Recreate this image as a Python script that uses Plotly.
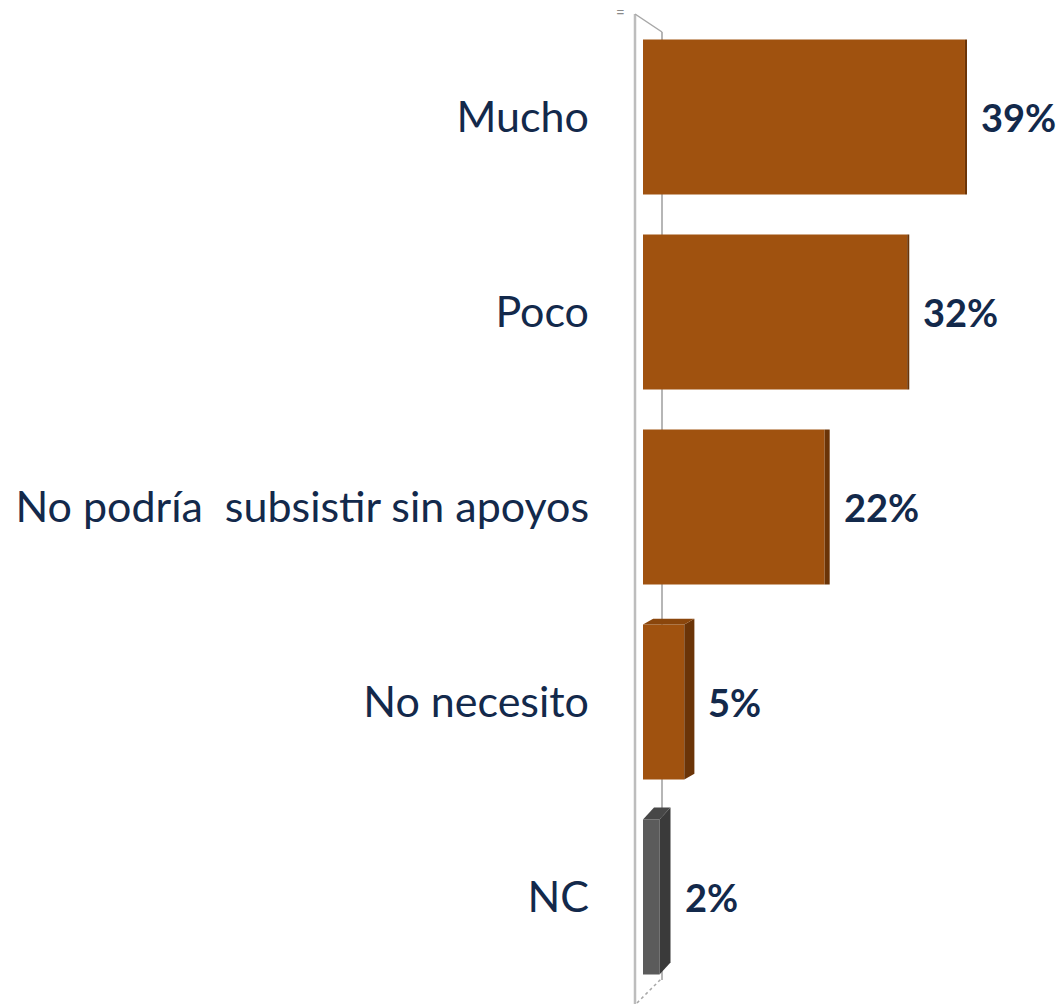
import plotly.graph_objects as go

# Survey answers and their shares (%)
categories = ["Mucho", "Poco", "No podría\u00a0 subsistir sin apoyos", "No necesito", "NC"]
values = [39, 32, 22, 5, 2]

# Styling
FRONT = ["#A0520F", "#A0520F", "#A0520F", "#A0520F", "#5B5B5B"]
SIDE = ["#6B3407", "#6B3407", "#6B3407", "#6B3407", "#3A3A3A"]
TOP = ["#8A460C", "#8A460C", "#8A460C", "#8A460C", "#474747"]
TEXT = "#13294B"
FONT = "Lato, 'Open Sans', sans-serif"

W, H = 1061, 1007
PLOT_L = 635          # left edge of the plotting area (px)
ZERO_PX = 643         # pixel position of x = 0
PX_PER_UNIT = 8.256   # px per percentage point
ROW0_PX = 117         # centre of the first row (px)
ROW_PX = 195.0        # row pitch (px)
BAR_W = 0.795

x_range = [(PLOT_L - ZERO_PX) / PX_PER_UNIT, (W - ZERO_PX) / PX_PER_UNIT]
y_range = [(H - ROW0_PX) / ROW_PX, -ROW0_PX / ROW_PX]   # reversed: first row on top

ypos = list(range(len(categories)))

fig = go.Figure()
fig.add_trace(go.Bar(
    x=values, y=ypos, orientation="h", width=BAR_W,
    marker=dict(color=FRONT, line=dict(width=0)),
    hoverinfo="skip", showlegend=False,
))


def px_to_paper(px, py):
    return (px - PLOT_L) / (W - PLOT_L), 1 - py / H


shapes = []

# Perspective "wall" behind the bars
def wall_line(p0, p1, color, width, dash="solid"):
    x0, y0 = px_to_paper(*p0)
    x1, y1 = px_to_paper(*p1)
    shapes.append(dict(type="line", xref="paper", yref="paper", x0=x0, y0=y0, x1=x1, y1=y1,
                       line=dict(color=color, width=width, dash=dash), layer="below"))

wall_line((635, 14), (635, 1004), "#BDBDBD", 2.5)
wall_line((635, 14), (662, 32), "#A8A8A8", 1.5)
wall_line((662, 32), (662, 980), "#9E9E9E", 1.5)
wall_line((637, 1003), (662, 978), "#A8A8A8", 1.5, "dot")

# 3D faces for each bar (side and top), derived from the bar values
label_shift = []
for i, v in enumerate(values):
    xr_px = ZERO_PX + v * PX_PER_UNIT
    yc_px = ROW0_PX + i * ROW_PX
    dx_px = max(2.0, 0.036 * (965 - xr_px))
    dy_px = max(0.0, 0.032 * (yc_px - 520))
    dx = dx_px / PX_PER_UNIT
    dy = dy_px / ROW_PX
    top = i - BAR_W / 2
    bot = i + BAR_W / 2
    side = f"M {v} {top} L {v + dx} {top - dy} L {v + dx} {bot - dy} L {v} {bot} Z"
    shapes.append(dict(type="path", xref="x", yref="y", path=side,
                       fillcolor=SIDE[i], line=dict(width=0), layer="above"))
    if dy_px > 0.5:
        topface = f"M 0 {top} L {v} {top} L {v + dx} {top - dy} L {dx} {top - dy} Z"
        shapes.append(dict(type="path", xref="x", yref="y", path=topface,
                           fillcolor=TOP[i], line=dict(width=0), layer="above"))
    label_shift.append(dx_px + 12)

annotations = []
for i, v in enumerate(values):
    annotations.append(dict(
        x=v, y=i, xref="x", yref="y", text=f"<b>{v}%</b>", showarrow=False,
        xanchor="left", yanchor="middle", xshift=label_shift[i],
        font=dict(family=FONT, size=38, color=TEXT),
    ))

# small grip mark at the top of the wall
gx, gy = px_to_paper(620, 12)
annotations.append(dict(x=gx, y=gy, xref="paper", yref="paper", text="=", showarrow=False,
                        xanchor="center", yanchor="middle",
                        font=dict(family=FONT, size=15, color="#8A8A8A")))

fig.update_layout(
    width=W, height=H,
    margin=dict(l=PLOT_L, r=0, t=0, b=0),
    paper_bgcolor="white", plot_bgcolor="white",
    shapes=shapes, annotations=annotations,
    xaxis=dict(range=x_range, visible=False, fixedrange=True),
    yaxis=dict(range=y_range, tickvals=ypos, ticktext=categories,
               showgrid=False, zeroline=False, showline=False, ticks="",
               ticklabelstandoff=45,
               tickfont=dict(family=FONT, size=43, color=TEXT), fixedrange=True),
    bargap=0.2,
)

fig.write_html("out.html")
